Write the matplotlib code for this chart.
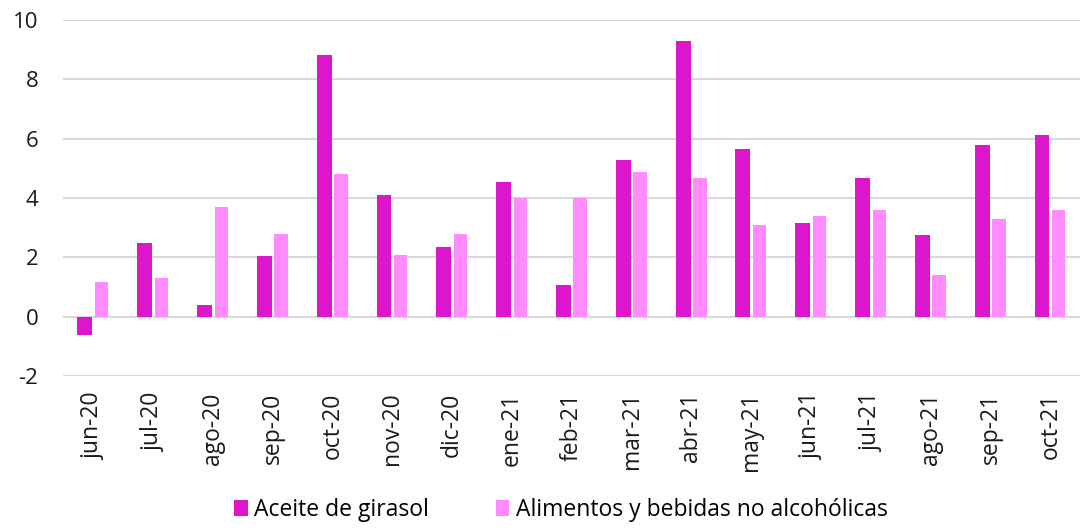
import matplotlib
matplotlib.use("Agg")
import matplotlib.pyplot as plt
import numpy as np

plt.rcParams['font.family'] = ['Open Sans', 'DejaVu Sans']
plt.rcParams['axes.unicode_minus'] = False

categories = ["jun-20", "jul-20", "ago-20", "sep-20", "oct-20", "nov-20", "dic-20",
              "ene-21", "feb-21", "mar-21", "abr-21", "may-21", "jun-21", "jul-21",
              "ago-21", "sep-21", "oct-21"]
aceite = [-0.62, 2.5, 0.38, 2.05, 8.81, 4.09, 2.35, 4.53, 1.07, 5.28, 9.30, 5.64, 3.17, 4.66, 2.76, 5.80, 6.12]
alimentos = [1.18, 1.29, 3.69, 2.79, 4.80, 2.09, 2.79, 3.99, 3.99, 4.89, 4.69, 3.08, 3.39, 3.59, 1.39, 3.28, 3.59]
series_names = ["Aceite de girasol", "Alimentos y bebidas no alcohólicas"]

c_dark = "#DD16CE"
c_light = "#FF8CFF"

fig = plt.figure(figsize=(10.83, 5.31), dpi=100)
ax = fig.add_axes([0.0585, 0.292, 0.939, 0.67])

x = np.arange(len(categories))
w = 0.25
ax.bar(x - 0.14, aceite, width=w, color=c_dark, label=series_names[0], zorder=3)
ax.bar(x + 0.14, alimentos, width=w * 0.9, color=c_light, label=series_names[1], zorder=3)

ax.set_ylim(-2, 10)
ax.set_xlim(-0.5, len(categories) - 0.5)
ax.set_yticks(np.arange(-2, 11, 2))
ax.yaxis.grid(True, color="#D9D9D9", linewidth=1.5, zorder=0)
ax.set_axisbelow(True)
for s in ax.spines.values():
    s.set_visible(False)
ax.tick_params(axis='both', length=0, labelsize=16, colors="#1a1a1a")
ax.tick_params(axis='x', labelsize=16.5)
ax.tick_params(axis='y', pad=18)
ax.tick_params(axis='x', pad=12)
ax.set_xticks(x)
ax.set_xticklabels(categories, rotation=90)

leg = fig.legend(loc="lower center", bbox_to_anchor=(0.518, -0.022), ncol=2, frameon=False,
                 fontsize=16.5, handlelength=0.6, handleheight=0.7, handletextpad=0.3,
                 columnspacing=2.9)

fig.savefig("out.png", dpi=100)
